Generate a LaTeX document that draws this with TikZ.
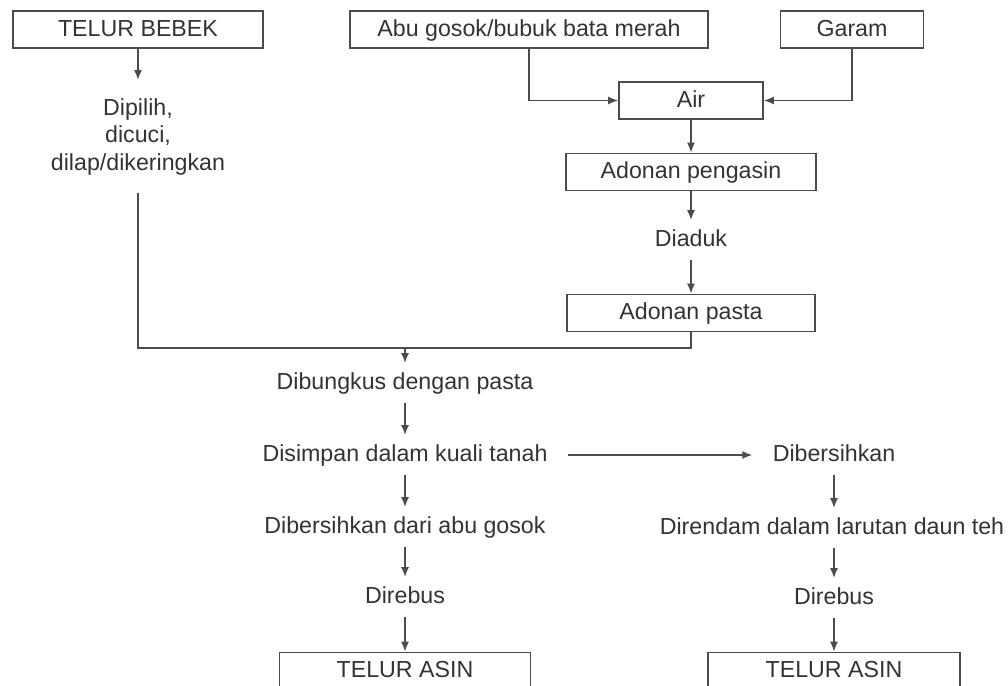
\documentclass[tikz,border=0pt]{standalone}
\usepackage{fontspec}
\setmainfont{Liberation Sans}
\usepackage{tikz}
\usetikzlibrary{arrows.meta}

\begin{document}
\begin{tikzpicture}[
   x=0.5pt, y=-0.5pt,
   font=\fontsize{11.6}{13.75}\selectfont,
   box/.style={rectangle,draw=black!70,line width=0.8pt,text=black!80,
    minimum height=18.5pt,inner sep=0pt,text height=9pt,text depth=2.5pt},
   lbl/.style={text=black!80,inner xsep=10pt,inner ysep=4pt,
    text height=9pt,text depth=2.5pt},
   flow/.style={draw=black!70,line width=0.8pt,-{Latex[length=5pt,width=4pt]}},
   link/.style={draw=black!70,line width=0.8pt}
    ]
  \useasboundingbox (0,0) rectangle (1008,686);
  \clip (0,0) rectangle (1008,686);

  % -- top row
  \node[box,minimum width=125pt] at (138,29.5) (bebek) {TELUR BEBEK};
  \node[box,minimum width=179pt] at (529,29.5) (abu) {Abu gosok/bubuk bata merah};
  \node[box,minimum width=71.5pt] at (852,29.5) (garam) {Garam};

  \node[text=black!80,align=center,inner xsep=4pt,inner ysep=9pt,anchor=north]
    at (138,80) (pilih) {Dipilih,\\ dicuci,\\ dilap/dikeringkan};

  % -- mixing column
  \node[box,minimum width=72pt] at (691,100.5) (air) {Air};
  \node[box,minimum width=125pt] at (691,172) (pengasin) {Adonan pengasin};
  \node[lbl] at (691,240) (diaduk) {Diaduk};
  \node[box,minimum width=124pt] at (691,313) (pasta) {Adonan pasta};

  % -- egg column
  \node[lbl] at (405,383) (bungkus) {Dibungkus dengan pasta};
  \node[lbl] at (405,455) (simpan) {Disimpan dalam kuali tanah};
  \node[lbl] at (405,527) (bersih1) {Dibersihkan dari abu gosok};
  \node[lbl] at (405,597) (rebus1) {Direbus};
  \node[box,minimum width=125.5pt] at (405,671) (asin1) {TELUR ASIN};

  % -- right column
  \node[lbl] at (834,455) (bersih2) {Dibersihkan};
  \node[lbl] at (832,528) (rendam) {Direndam dalam larutan daun teh};
  \node[lbl] at (834,598) (rebus2) {Direbus};
  \node[box,minimum width=126pt] at (834,671) (asin2) {TELUR ASIN};

  % -- arrows
  \draw[flow] (bebek) -- (pilih);
  \draw[flow] (abu.south) |- (air.west);
  \draw[flow] (garam.south) |- (air.east);
  \draw[flow] (air) -- (pengasin);
  \draw[flow] (pengasin) -- (diaduk);
  \draw[flow] (diaduk) -- (pasta);

  \coordinate (jn) at (405,348);
  \draw[link] (pilih.south) |- (jn) -| (pasta.south);
  \draw[flow] (jn) -- (bungkus);
  \draw[flow] (bungkus) -- (simpan);
  \draw[flow] (simpan) -- (bersih1);
  \draw[flow] (bersih1) -- (rebus1);
  \draw[flow] (rebus1) -- (asin1);

  \draw[flow] (simpan) -- (bersih2);
  \draw[flow] (bersih2) -- (rendam.north -| bersih2);
  \draw[flow] (rendam.south -| rebus2) -- (rebus2);
  \draw[flow] (rebus2) -- (asin2);

\end{tikzpicture}
\end{document}
